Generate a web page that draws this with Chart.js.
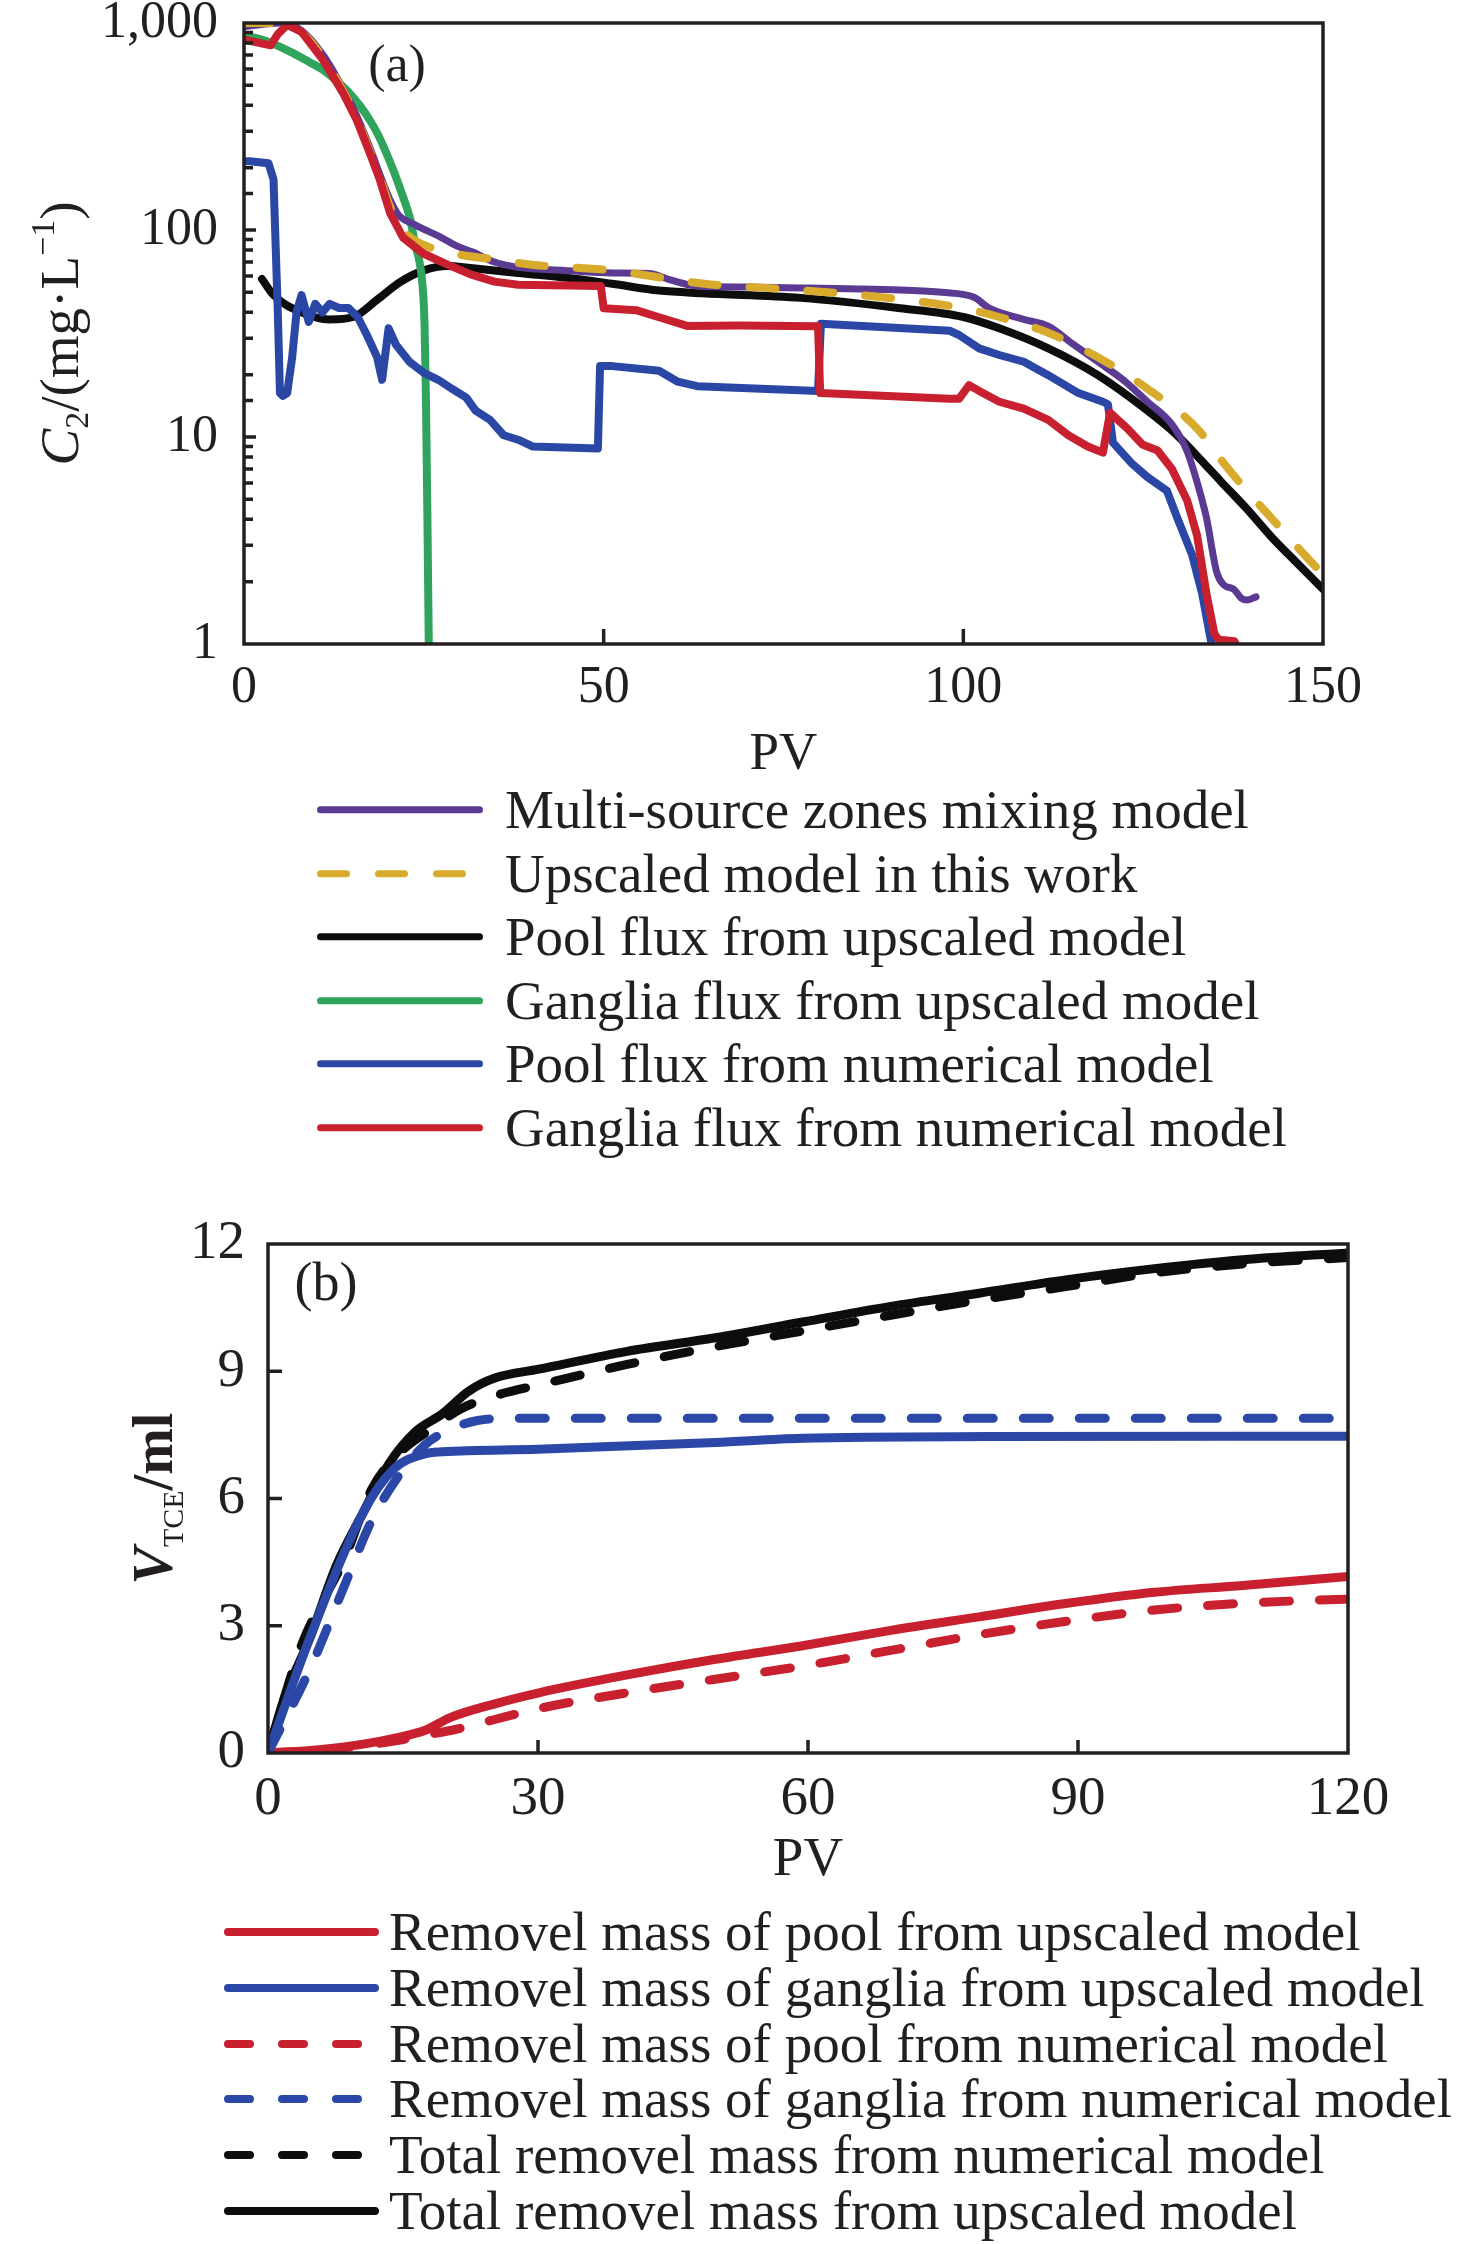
<!DOCTYPE html>
<html>
<head>
<meta charset="utf-8">
<script src="https://cdn.jsdelivr.net/npm/chart.js@4.4.1/dist/chart.umd.min.js"></script>
<style>
  html, body { margin: 0; padding: 0; background: #fff; }
  body { width: 1476px; height: 2244px; position: relative; overflow: hidden; font-family: 'Liberation Serif', 'Times New Roman', serif; color: #231f20; }
  canvas { position: absolute; left: 0; }
  .legend { position: absolute; }
  .row { display: flex; align-items: center; white-space: nowrap; }
  .row svg { flex: none; display: block; }
</style>
</head>
<body>
<canvas id="cA" width="1476" height="800" style="top:0px;width:1476px;height:800px"></canvas>
<canvas id="cB" width="1476" height="700" style="top:1200px;width:1476px;height:700px"></canvas>
<div id="legA" class="legend"></div>
<div id="legB" class="legend"></div>
<script>
// ---------------- Data: panel (a) ----------------
const aLabels = [
  'Multi-source zones mixing model',
  'Upscaled model in this work',
  'Pool flux from upscaled model',
  'Ganglia flux from upscaled model',
  'Pool flux from numerical model',
  'Ganglia flux from numerical model'
];
const aXTicks = [0, 50, 100, 150];
const aYTickLabels = ['1', '10', '100', '1,000'];

const multiPV = [0, 3, 5, 8, 11, 13.8, 15.7, 17.5, 18.9, 20.3, 21.5, 23.5, 25.5, 27.2, 29.5, 31.9, 34.8, 38.1, 44.6, 51.2, 56.4, 59, 63, 70, 77.4, 84, 91.2, 97, 101.5, 103.6, 108.4, 111.8, 115.3, 118.7, 122.2, 125.6, 129, 131.1, 132.5, 133.8, 135.2, 136.2, 137.6, 138.6, 139.4, 140.7];
const multiC  = [960, 990, 1000, 920, 700, 480, 355, 250, 185, 140, 118, 107, 99, 93, 84, 78, 70, 66, 63.8, 62, 61.6, 57.8, 53.6, 53, 52.5, 52, 51.3, 50, 47.3, 41.9, 37, 34.3, 28, 23.1, 18.9, 14.8, 11.5, 8.55, 6.05, 4.07, 2.24, 1.93, 1.84, 1.67, 1.63, 1.69];

const upPV = [0, 3, 6, 8, 11, 13.8, 15.7, 17.5, 18.9, 20.3, 22.1, 24, 26, 30, 35, 40, 51, 64, 77, 91.2, 100, 105, 111.8, 118.7, 125.6, 132.5, 135.9, 139.4, 142.8, 146.2, 149];
const upC  = [1000, 1000, 960, 900, 680, 470, 345, 240, 180, 130, 100, 88, 82, 76, 72, 68, 63.8, 55, 51.3, 46.3, 41.9, 38, 31.9, 24.3, 17.1, 11, 7.7, 5.5, 4.07, 3.0, 2.36];

const poolUpPV = [2.5, 4.1, 8, 11.9, 15.2, 18.5, 21.7, 25, 28.3, 31.5, 38.1, 44.6, 51.2, 57.7, 63.7, 77.4, 91.2, 100, 105, 111.8, 118.7, 125.6, 129.7, 132.5, 135.9, 139.4, 142.8, 146.2, 150];
const poolUpC  = [58, 48.5, 40, 37, 38, 46, 56, 63.8, 67, 65.5, 62, 59, 55, 51, 49.5, 47, 41.9, 38, 33.5, 26.8, 19.9, 13.4, 10.2, 8.1, 6.05, 4.5, 3.3, 2.5, 1.84];

const gangUpPV = [0, 0.8, 3, 6.4, 9, 11, 13, 14.7, 16.2, 17.5, 18.5, 19.4, 20.75, 22.1, 23.1, 23.8, 24.4, 24.8, 25.1, 25.3, 25.5, 25.7];
const gangUpC  = [880, 861, 820, 727, 650, 593, 520, 457, 395, 339, 295, 253, 195, 145, 113, 85, 70, 55, 35, 14.8, 4, 0.9];

const poolNumPV = [0, 0.8, 3.4, 4.1, 4.7, 5.0, 5.4, 6.0, 6.7, 7.3, 8.0, 9.0, 9.9, 10.9, 11.9, 13.2, 14.5, 15.8, 17.1, 18.5, 19.2, 20.1, 21.1, 23.0, 25.0, 27.0, 28.9, 30.9, 32.2, 34.2, 36.1, 38.1, 40.1, 49.2, 49.5, 51.2, 57.7, 60.3, 63.0, 79.8, 80.2, 98.1, 99.4, 102.2, 105, 108.4, 111.8, 116, 119.4, 120.1, 120.8, 123.5, 125.6, 128.3, 129.7, 131.8, 133.2, 134.5, 135.5];
const poolNumC  = [215, 215, 210, 176, 40, 16.3, 15.8, 16.3, 24.3, 40, 48.5, 36, 44, 40, 44, 42, 42, 38, 31, 24.3, 18.9, 33.5, 28, 23.1, 20.4, 18.9, 17.1, 15.5, 13.4, 12.1, 10.2, 9.7, 9.0, 8.8, 22, 22, 20.9, 18.5, 17.6, 16.7, 35.2, 32.6, 31.1, 26.8, 24.9, 23.1, 19.9, 16.3, 14.8, 14.4, 9.4, 7.4, 6.4, 5.5, 4.1, 2.7, 1.75, 1.0, 0.8];

const gangNumPV = [0, 0.8, 3.7, 4.7, 6.0, 8.0, 11.0, 13.8, 15.7, 17.5, 18.9, 20.3, 22.1, 24.9, 28.3, 31.5, 34.8, 38.1, 49.6, 50.0, 54.5, 57.7, 61.6, 68.7, 79.8, 80.1, 98.1, 99.4, 100.8, 102.2, 105, 108.4, 111.8, 114.6, 117.3, 119.4, 120.4, 122.8, 124.9, 127, 129, 131.1, 132.5, 133.8, 134.9, 135.5, 137.7, 138.5];
const gangNumC  = [830, 820, 780, 883, 978, 906, 662, 457, 338, 235, 174, 121, 92, 77, 68, 61, 56.3, 54.4, 53.6, 41.9, 41, 37.9, 34.4, 34.6, 34.3, 16.3, 15.3, 15.3, 17.8, 16.7, 14.8, 13.7, 12.1, 10.2, 9.0, 8.4, 13.1, 11.0, 9.2, 8.6, 7.0, 4.95, 3.34, 1.75, 1.12, 1.05, 1.03, 0.9];

// ---------------- Data: panel (b) ----------------
const bLabels = [
  'Removel mass of pool from upscaled model',
  'Removel mass of ganglia from upscaled model',
  'Removel mass of pool from numerical model',
  'Removel mass of ganglia from numerical model',
  'Total removel mass from numerical model',
  'Total removel mass from upscaled model'
];
const bXTicks = [0, 30, 60, 90, 120];
const bYTicks = [0, 3, 6, 9, 12];

const poolUpMPV = [0, 5.7, 10.6, 14.5, 17.4, 20.3, 25.2, 30.1, 39.9, 49.7, 59.4, 69.2, 79, 88.8, 98.5, 108.3, 120];
const poolUpM   = [0, 0.08, 0.21, 0.37, 0.53, 0.84, 1.16, 1.42, 1.84, 2.21, 2.53, 2.89, 3.21, 3.53, 3.79, 3.95, 4.16];

const gangUpMPV = [0, 4.7, 10.6, 14, 17.4, 19.4, 30, 49.7, 59.4, 80, 120];
const gangUpM   = [0, 2.74, 5.68, 6.7, 7.05, 7.1, 7.16, 7.32, 7.42, 7.46, 7.47];

const poolNumMPV = [0, 5.7, 10.6, 14.5, 17.4, 20.3, 25.2, 30.1, 39.9, 49.7, 59.4, 69.2, 79, 88.8, 98.5, 108.3, 120];
const poolNumM   = [0, 0.06, 0.18, 0.3, 0.42, 0.53, 0.79, 1.05, 1.42, 1.74, 2.05, 2.42, 2.79, 3.11, 3.37, 3.53, 3.63];

const gangNumMPV = [0, 4.7, 8.6, 11.5, 14.5, 17.4, 20.3, 23.3, 27.2, 120];
const gangNumM   = [0, 2.0, 4.0, 5.47, 6.53, 7.26, 7.63, 7.84, 7.89, 7.89];

const totNumPV = [0, 3.7, 8.6, 11.5, 14.5, 18.4, 21.3, 25.2, 30.1, 39.9, 49.7, 59.4, 69.2, 79, 88.8, 98.5, 108.3, 120];
const totNumM  = [0, 2.53, 4.63, 6.21, 7.05, 7.68, 8.1, 8.42, 8.68, 9.16, 9.58, 9.95, 10.32, 10.68, 11.0, 11.32, 11.53, 11.68];

const totUpPV = [0, 1.76, 4.7, 7.6, 10.6, 13.5, 16.4, 19.4, 22.3, 25.2, 30.1, 39.9, 49.7, 59.4, 69.2, 79, 88.8, 98.5, 108.3, 120];
const totUpM  = [0, 1.26, 2.74, 4.42, 5.68, 6.84, 7.58, 8.0, 8.53, 8.84, 9.05, 9.47, 9.79, 10.16, 10.53, 10.84, 11.16, 11.42, 11.63, 11.79];

// ---------------- helpers ----------------
const FONT = "'Liberation Serif', 'Times New Roman', serif";
const INK = '#231f20';
const pts = (xs, ys) => xs.map((x, i) => ({ x: x, y: ys[i] }));

function framePlugin(opts) {
  return {
    id: 'frameTicks',
    afterDatasetsDraw(chart) {
      const { ctx, chartArea: a } = chart;
      const x = chart.scales.x, y = chart.scales.y;
      ctx.save();
      ctx.strokeStyle = INK;
      ctx.lineWidth = opts.lw;
      ctx.lineCap = 'butt';
      ctx.beginPath();
      x.ticks.forEach(t => {
        if (t.value <= x.min || t.value >= x.max) return;
        const px = x.getPixelForValue(t.value);
        ctx.moveTo(px, a.bottom); ctx.lineTo(px, a.bottom - opts.xLen);
      });
      y.ticks.forEach(t => {
        if (t.value <= y.min || t.value >= y.max) return;
        const py = y.getPixelForValue(t.value);
        let major = true;
        if (y.type === 'logarithmic') {
          const l = Math.log10(t.value);
          major = Math.abs(l - Math.round(l)) < 1e-6;
        }
        ctx.moveTo(a.left, py); ctx.lineTo(a.left + (major ? opts.yLen : opts.yMinor), py);
      });
      ctx.stroke();
      ctx.lineWidth = opts.frame;
      ctx.strokeRect(a.left, a.top, a.right - a.left, a.bottom - a.top);
      ctx.restore();
    }
  };
}

// rich-text titles (sub/superscripts) drawn on the canvas as real text
function richPlugin(cfg) {
  return {
    id: 'richText',
    afterDraw(chart) {
      const { ctx, chartArea: a } = chart;
      ctx.save();
      ctx.fillStyle = INK;
      const t = cfg.yTitle;
      ctx.translate(a.left - t.offset, (a.top + a.bottom) / 2 + (t.shift || 0));
      ctx.rotate(-Math.PI / 2);
      let total = 0;
      t.segs.forEach(s => { ctx.font = s.font; total += ctx.measureText(s.t).width; });
      let cx = -total / 2;
      ctx.textBaseline = 'alphabetic';
      ctx.textAlign = 'left';
      t.segs.forEach(s => {
        ctx.font = s.font;
        ctx.fillText(s.t, cx, t.base + (s.dy || 0));
        cx += ctx.measureText(s.t).width;
      });
      ctx.restore();
      ctx.save();
      ctx.fillStyle = INK;
      ctx.font = cfg.panel.font;
      ctx.textAlign = 'center';
      ctx.textBaseline = 'middle';
      ctx.fillText(cfg.panel.text, a.left + cfg.panel.dx, a.top + cfg.panel.dy);
      ctx.restore();
    }
  };
}

function lineDS(label, data, color, width, extra) {
  return Object.assign({
    label: label, data: data, borderColor: color, backgroundColor: color,
    borderWidth: width, pointRadius: 0, pointHitRadius: 0, fill: false,
    tension: 0, borderCapStyle: 'round', borderJoinStyle: 'round'
  }, extra || {});
}

const noPadY = s => { s.paddingTop = 0; s.paddingBottom = 0; };
const noPadX = s => { s.paddingLeft = 0; s.paddingRight = 0; };

// ---------------- Chart (a) ----------------
const COL = { purple: '#5b3a93', yellow: '#d8ab2c', black: '#0d0d0d', green: '#30a45c', blue: '#2b47a6', red: '#c9202f' };

const dsA = [
  lineDS(aLabels[0], pts(multiPV, multiC), COL.purple, 7, { cubicInterpolationMode: 'monotone', order: 3 }),
  lineDS(aLabels[1], pts(upPV, upC), COL.yellow, 8, { borderDash: [26, 32], cubicInterpolationMode: 'monotone', order: 1 }),
  lineDS(aLabels[2], pts(poolUpPV, poolUpC), COL.black, 8, { cubicInterpolationMode: 'monotone', order: 5 }),
  lineDS(aLabels[3], pts(gangUpPV, gangUpC), COL.green, 8, { cubicInterpolationMode: 'monotone', order: 4 }),
  lineDS(aLabels[4], pts(poolNumPV, poolNumC), COL.blue, 8, { order: 2 }),
  lineDS(aLabels[5], pts(gangNumPV, gangNumC), COL.red, 8, { order: 0 })
];

const chartA = new Chart(document.getElementById('cA'), {
  type: 'line',
  data: { datasets: dsA },
  options: {
    responsive: false, animation: false, devicePixelRatio: 1,
    layout: { padding: { left: 0, top: 23, right: 153, bottom: 0 } },
    plugins: { legend: { display: false }, tooltip: { enabled: false } },
    scales: {
      x: {
        type: 'linear', min: 0, max: 150,
        afterBuildTicks: s => { s.ticks = aXTicks.map(v => ({ value: v })); },
        afterFit: s => { s.height = 156; noPadX(s); },
        grid: { display: false, drawTicks: false }, border: { display: false },
        ticks: { padding: 13, color: INK, font: { family: FONT, size: 52 }, maxRotation: 0, autoSkip: false },
        title: { display: true, text: 'PV', color: INK, font: { family: FONT, size: 53 }, padding: { top: 0, bottom: 13 } }
      },
      y: {
        type: 'logarithmic', min: 1, max: 1000,
        afterFit: s => { s.width = 244; noPadY(s); },
        grid: { display: false, drawTicks: false }, border: { display: false },
        ticks: {
          padding: 26, color: INK, font: { family: FONT, size: 52 }, autoSkip: false,
          callback: function (v) {
            const l = Math.log10(v);
            const r = Math.round(l);
            return Math.abs(l - r) < 1e-6 ? aYTickLabels[r] : '';
          }
        }
      }
    }
  },
  plugins: [
    framePlugin({ lw: 3.5, frame: 3.5, xLen: 15, yLen: 12, yMinor: 9 }),
    richPlugin({
      yTitle: {
        offset: 184, base: 18, shift: 0,
        segs: [
          { t: 'C', font: 'italic 55px ' + FONT },
          { t: '2', font: '34px ' + FONT, dy: 10 },
          { t: '/(mg·L', font: '55px ' + FONT },
          { t: '−1', font: '34px ' + FONT, dy: -24 },
          { t: ')', font: '55px ' + FONT }
        ]
      },
      panel: { text: '(a)', font: '52px ' + FONT, dx: 153, dy: 44 }
    })
  ]
});

// ---------------- Chart (b) ----------------
const BC = { red: '#c9202f', blue: '#2b48a8', black: '#0d0d0d' };
const dsB = [
  lineDS(bLabels[0], pts(poolUpMPV, poolUpM), BC.red, 9, { cubicInterpolationMode: 'monotone', order: 1 }),
  lineDS(bLabels[1], pts(gangUpMPV, gangUpM), BC.blue, 9, { cubicInterpolationMode: 'monotone', order: 3 }),
  lineDS(bLabels[2], pts(poolNumMPV, poolNumM), BC.red, 9, { borderDash: [26, 30], cubicInterpolationMode: 'monotone', order: 2 }),
  lineDS(bLabels[3], pts(gangNumMPV, gangNumM), BC.blue, 9, { borderDash: [26, 30], cubicInterpolationMode: 'monotone', order: 0 }),
  lineDS(bLabels[4], pts(totNumPV, totNumM), BC.black, 9, { borderDash: [26, 30], cubicInterpolationMode: 'monotone', order: 4 }),
  lineDS(bLabels[5], pts(totUpPV, totUpM), BC.black, 9, { cubicInterpolationMode: 'monotone', order: 5 })
];

const chartB = new Chart(document.getElementById('cB'), {
  type: 'line',
  data: { datasets: dsB },
  options: {
    responsive: false, animation: false, devicePixelRatio: 1,
    layout: { padding: { left: 0, top: 44, right: 128, bottom: 0 } },
    plugins: { legend: { display: false }, tooltip: { enabled: false } },
    scales: {
      x: {
        type: 'linear', min: 0, max: 120,
        afterBuildTicks: s => { s.ticks = bXTicks.map(v => ({ value: v })); },
        afterFit: s => { s.height = 147; noPadX(s); },
        grid: { display: false, drawTicks: false }, border: { display: false },
        ticks: { padding: 14, color: INK, font: { family: FONT, size: 55 }, maxRotation: 0, autoSkip: false },
        title: { display: true, text: 'PV', color: INK, font: { family: FONT, size: 55 }, padding: { top: 0, bottom: 6 } }
      },
      y: {
        type: 'linear', min: 0, max: 12,
        afterBuildTicks: s => { s.ticks = bYTicks.map(v => ({ value: v })); },
        afterFit: s => { s.width = 268; noPadY(s); },
        grid: { display: false, drawTicks: false }, border: { display: false },
        ticks: { padding: 23, color: INK, font: { family: FONT, size: 55 }, autoSkip: false }
      }
    }
  },
  plugins: [
    framePlugin({ lw: 3.5, frame: 3.5, xLen: 13, yLen: 14, yMinor: 14 }),
    richPlugin({
      yTitle: {
        offset: 114, base: 18, shift: 0,
        segs: [
          { t: 'V', font: 'italic bold 56px ' + FONT },
          { t: 'TCE', font: '30px ' + FONT, dy: 11 },
          { t: '/ml', font: 'bold 56px ' + FONT }
        ]
      },
      panel: { text: '(b)', font: '54px ' + FONT, dx: 58, dy: 42 }
    })
  ]
});

// ---------------- HTML legends built from the datasets ----------------
function buildLegend(el, chart, cfg) {
  el.style.left = cfg.left + 'px';
  el.style.top = cfg.top + 'px';
  chart.data.datasets.forEach(ds => {
    const row = document.createElement('div');
    row.className = 'row';
    row.style.height = cfg.rowH + 'px';
    const svgNS = 'http://www.w3.org/2000/svg';
    const svg = document.createElementNS(svgNS, 'svg');
    svg.setAttribute('width', cfg.sampleW);
    svg.setAttribute('height', cfg.rowH);
    const ln = document.createElementNS(svgNS, 'line');
    const lw = cfg.lw;
    ln.setAttribute('x1', lw / 2); ln.setAttribute('x2', cfg.sampleW - lw / 2);
    ln.setAttribute('y1', cfg.rowH / 2); ln.setAttribute('y2', cfg.rowH / 2);
    ln.setAttribute('stroke', ds.borderColor);
    ln.setAttribute('stroke-width', lw);
    ln.setAttribute('stroke-linecap', 'round');
    if (ds.borderDash) ln.setAttribute('stroke-dasharray', cfg.dash.join(' '));
    svg.appendChild(ln);
    const txt = document.createElement('span');
    txt.textContent = ds.label;
    txt.style.font = cfg.fontSize + 'px ' + FONT;
    txt.style.lineHeight = cfg.rowH + 'px';
    txt.style.marginLeft = cfg.gap + 'px';
    txt.style.color = INK;
    row.appendChild(svg);
    row.appendChild(txt);
    el.appendChild(row);
  });
}

buildLegend(document.getElementById('legA'), chartA, {
  left: 317, top: 778, rowH: 63.6, sampleW: 166, gap: 22, fontSize: 55, lw: 7, dash: [26, 32]
});
buildLegend(document.getElementById('legB'), chartB, {
  left: 224, top: 1904, rowH: 55.8, sampleW: 155, gap: 10, fontSize: 55, lw: 8, dash: [22, 32]
});
</script>
</body>
</html>
